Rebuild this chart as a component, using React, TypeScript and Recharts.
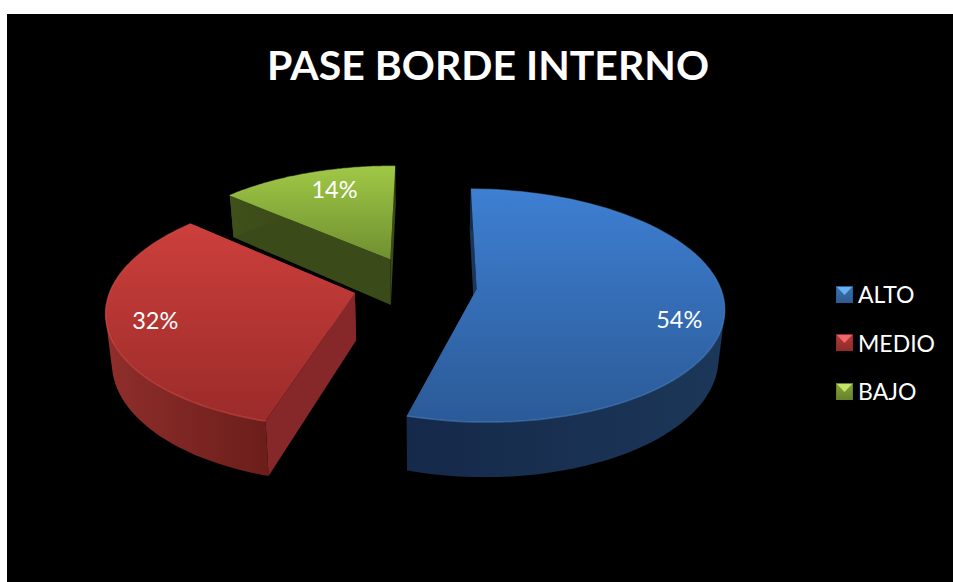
import { Legend, Pie, PieChart } from "recharts";

const categories = ["ALTO", "MEDIO", "BAJO"];
const shares = [54.4, 31.9, 13.7];
const title = "PASE BORDE INTERNO";

// top, bottom of the lit face; left, right of the wall; cut face; rim highlight
const palette: Record<string, any> = {
  ALTO: { top: "#3e7fd2", bottom: "#2b5a97", wallA: "#1c3759", wallB: "#15294a", cut: "#1b3658", rim: "#4a86c8", sw: ["#69b0f2", "#3c72ae", "#2b5c94"] },
  MEDIO: { top: "#cc3f3c", bottom: "#9b2b29", wallA: "#8f2e2b", wallB: "#6c1e1b", cut: "#86272a", rim: "#d8504c", sw: ["#f0686a", "#b23a38", "#8f2b29"] },
  BAJO: { top: "#a0c846", bottom: "#6f8f30", wallA: "#40501a", wallB: "#334015", cut: "#3a4a18", rim: "#aacb55", sw: ["#c6e66a", "#86a63c", "#66822b"] },
};

// drawn back to front: green, red, blue, counter-clockwise from 12 o'clock
const pieData = categories.map((name, i) => ({ name, value: shares[i] })).reverse();

const W = 946;
const H = 568;
const CX = 408;
const CY = 271;
const RX = 243;
const FLAT = 0.465; // vertical squash of the tilted disc
const PERSP = 0.14;
const EXPLODE = 0.255;
const DEPTH = 47;
const FLOOR = 0.98; // lower face shrinks slightly in x
const RAD = Math.PI / 180;

const labelNudge: Record<string, number[]> = { ALTO: [5, 16], MEDIO: [-3, 0], BAJO: [12, 0] };

function project(cx: number, cy: number, r: number, u: number, v: number, low = false) {
  const d = 1 + PERSP * v;
  const x = (r * u) / d;
  const y = (r * FLAT * v) / d;
  if (!low) return [cx + x, cy - y];
  return [cx + x * FLOOR, cy - y + DEPTH / d];
}

const toPath = (pts: number[][], close = true) =>
  "M" + pts.map((p) => p[0].toFixed(1) + " " + p[1].toFixed(1)).join("L") + (close ? "Z" : "");

// same winding for every quad, so one path fills their union without seams
function wound(q: number[][]) {
  let area = 0;
  q.forEach((p, i) => {
    const o = q[(i + 1) % q.length];
    area += p[0] * o[1] - o[0] * p[1];
  });
  return area < 0 ? [...q].reverse() : q;
}

function Slice(props: any) {
  const { cx, cy, outerRadius: r, startAngle, endAngle, name } = props;
  const c = palette[name];
  const mid = (90 - (startAngle + endAngle) / 2) * RAD;
  const ou = Math.sin(mid) * EXPLODE;
  const ov = Math.cos(mid) * EXPLODE;
  const a0 = Math.min(90 - startAngle, 90 - endAngle);
  const a1 = Math.max(90 - startAngle, 90 - endAngle);

  const rimAt = (low: boolean) => {
    const out: number[][] = [];
    for (let i = 0; i <= 72; i++) {
      const t = (a0 + ((a1 - a0) * i) / 72) * RAD;
      out.push(project(cx, cy, r, ou + Math.sin(t), ov + Math.cos(t), low));
    }
    return out;
  };
  const rim = rimAt(false);
  const rimLow = rimAt(true);
  const apex = project(cx, cy, r, ou, ov);
  const apexLow = project(cx, cy, r, ou, ov, true);
  const n = rim.length - 1;
  const xs = rim.map((p) => p[0]);
  const wall = rim
    .slice(0, n)
    .map((p, i) => toPath(wound([p, rim[i + 1], rimLow[i + 1], rimLow[i]])))
    .join("");

  return (
    <g>
      <defs>
        <linearGradient id={"top" + name} x1="0" y1="0" x2="0" y2="1">
          <stop offset="0%" stopColor={c.top} />
          <stop offset="100%" stopColor={c.bottom} />
        </linearGradient>
        <linearGradient
          id={"wall" + name}
          gradientUnits="userSpaceOnUse"
          x1={Math.min(...xs)}
          y1={0}
          x2={Math.max(...xs)}
          y2={0}
        >
          <stop offset="0%" stopColor={name === "ALTO" ? c.wallB : c.wallA} />
          <stop offset="100%" stopColor={name === "ALTO" ? c.wallA : c.wallB} />
        </linearGradient>
      </defs>
      <path d={toPath([rim[0], apex, apexLow, rimLow[0]])} fill={c.cut} />
      <path d={toPath([rim[n], apex, apexLow, rimLow[n]])} fill={c.cut} />
      <path d={wall} fill={`url(#wall${name})`} />
      <path d={toPath([apex, ...rim])} fill={`url(#top${name})`} />
      <path d={toPath(rim, false)} fill="none" stroke={c.rim} strokeWidth={1.5} strokeOpacity={0.55} />
    </g>
  );
}

function SliceLabel(props: any) {
  const { cx, cy, outerRadius: r, midAngle, percent, name } = props;
  const t = (90 - midAngle) * RAD;
  const nudge = labelNudge[name];
  const p = project(cx, cy, r, Math.sin(t) * (EXPLODE + 0.8), Math.cos(t) * (EXPLODE + 0.8));
  return (
    <text
      x={p[0] + nudge[0]}
      y={p[1] + nudge[1]}
      textAnchor="middle"
      dominantBaseline="central"
      fill="#ffffff"
      fontFamily="Lato"
      fontSize={23.5}
    >
      {Math.round(percent * 100)}%
    </text>
  );
}

function Swatch({ name }: { name: string }) {
  const colors = palette[name].sw;
  return (
    <svg width={17} height={17} style={{ display: "block" }}>
      <defs>
        <linearGradient id={"sw" + name} x1="0" y1="0" x2="0" y2="1">
          <stop offset="0%" stopColor={colors[1]} />
          <stop offset="100%" stopColor={colors[2]} />
        </linearGradient>
      </defs>
      <rect x={0.5} y={0.5} width={16} height={16} fill={`url(#sw${name})`} stroke={colors[2]} />
      <polygon points="1,1 16,1 8.5,9" fill={colors[0]} />
    </svg>
  );
}

function LegendBox() {
  return (
    <div style={{ fontFamily: "Lato", fontSize: 23, color: "#ffffff" }}>
      {categories.map((name) => (
        <div key={name} style={{ display: "flex", alignItems: "center", height: 48.5 }}>
          <Swatch name={name} />
          <span style={{ marginLeft: 5 }}>{name}</span>
        </div>
      ))}
    </div>
  );
}

export default function App() {
  return (
    <div style={{ position: "absolute", left: 7, top: 14, width: W, height: H, background: "#000000" }}>
      <PieChart width={W} height={H} margin={{ top: 0, right: 0, bottom: 0, left: 0 }}>
        <text x={481} y={66} textAnchor="middle" fill="#ffffff" fontFamily="Lato" fontWeight={700} fontSize={41}>
          {title}
        </text>
        <Pie
          data={pieData}
          dataKey="value"
          nameKey="name"
          cx={CX}
          cy={CY}
          outerRadius={RX}
          startAngle={89.5}
          endAngle={449.5}
          stroke="none"
          shape={Slice}
          label={SliceLabel}
          labelLine={false}
          isAnimationActive={false}
        />
        <Legend
          layout="vertical"
          content={LegendBox}
          wrapperStyle={{ left: 829, top: 256, width: 117, bottom: "auto" }}
        />
      </PieChart>
    </div>
  );
}
